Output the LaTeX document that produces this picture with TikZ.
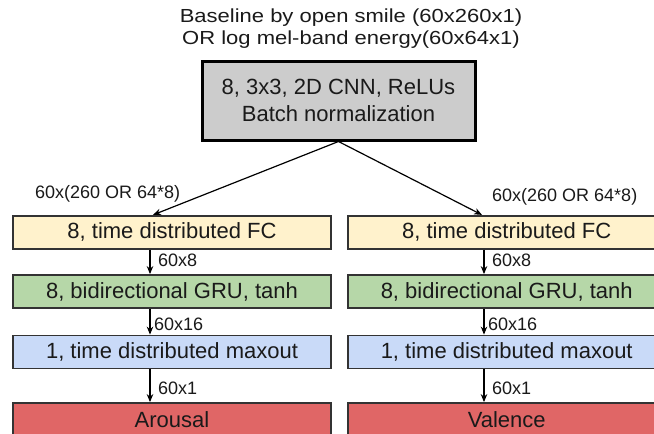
\documentclass[tikz,border=0pt]{standalone}
\usepackage{fontspec}
\setmainfont{Liberation Sans}
\usetikzlibrary{arrows.meta}
\definecolor{fcfill}{HTML}{FFF2CC}
\definecolor{grufill}{HTML}{B6D7A8}
\definecolor{maxfill}{HTML}{C9DAF8}
\definecolor{outfill}{HTML}{E06666}
\definecolor{cnnfill}{HTML}{CCCCCC}
\definecolor{edge}{HTML}{333333}
\definecolor{txt}{HTML}{1A1A1A}
\tikzset{
  layer/.style={draw=edge, line width=1.8pt, rectangle, minimum width=318pt, minimum height=33pt, inner sep=0pt, text=txt, font=\fontsize{22}{26}\selectfont},
  cnnbox/.style={draw=black, line width=3pt, fill=cnnfill, rectangle, minimum width=273pt, minimum height=79pt, inner sep=0pt, align=center, text=txt, font=\fontsize{22}{26.5}\selectfont},
  dimlabel/.style={inner sep=0pt, text=txt, font=\fontsize{18}{20}\selectfont},
  arr/.style={draw=black, line width=1.2pt, -{Stealth[length=8pt,width=6.5pt]}},
}
\begin{document}
\begin{tikzpicture}[x=1pt,y=-1pt]
\clip (0,0) rectangle (654,434);
\fill[white] (0,0) rectangle (654,434);
% input description
\node[inner sep=0pt, text=txt] (inp) at (351,29.3) {\scalebox{1}[0.86]{\fontsize{22}{24.5}\selectfont\begin{tabular}{@{}c@{}}Baseline by open smile (60x260x1)\\OR log mel-band energy(60x64x1)\end{tabular}}};
% CNN
\node[cnnbox] (cnn) at (338.5,100.5) {8, 3x3, 2D CNN, ReLUs\\Batch normalization};
% left column
\node[layer, fill=fcfill] (lfc) at (172,232.3) {8, time distributed FC};
\node[layer, fill=grufill] (lgru) at (172,291.5) {8, bidirectional GRU, tanh};
\node[layer, fill=maxfill] (lmax) at (172,352) {1, time distributed maxout};
\node[layer, fill=outfill] (lout) at (172,419.5) {Arousal};
% right column
\node[layer, fill=fcfill] (rfc) at (506.7,232.3) {8, time distributed FC};
\node[layer, fill=grufill] (rgru) at (506.7,291.5) {8, bidirectional GRU, tanh};
\node[layer, fill=maxfill] (rmax) at (506.7,352) {1, time distributed maxout};
\node[layer, fill=outfill] (rout) at (506.7,419.5) {Valence};
% arrow columns
\coordinate (la) at (150,0);
\coordinate (ra) at (484,0);
\coordinate (lt) at (153,0);
\coordinate (rt) at (482,0);
\coordinate (src) at (340,140);
% connectors
\draw[arr] (cnn.south) -- (lfc.north -| lt);
\draw[arr] (cnn.south) -- (rfc.north -| rt);
\draw[arr] (lfc.south -| la) -- (lgru.north -| la);
\draw[arr] (lgru.south -| la) -- (lmax.north -| la);
\draw[arr] (lmax.south -| la) -- (lout.north -| la);
\draw[arr] (rfc.south -| ra) -- (rgru.north -| ra);
\draw[arr] (rgru.south -| ra) -- (rmax.north -| ra);
\draw[arr] (rmax.south -| ra) -- (rout.north -| ra);
% labels
\node[dimlabel, anchor=west] (l0) at (35,194) {60x(260 OR 64*8)};
\node[dimlabel, anchor=west] (r0) at (492,197) {60x(260 OR 64*8)};
\node[dimlabel, anchor=west] (l1) at (158,260) {60x8};
\node[dimlabel, anchor=west] (r1) at (492,260) {60x8};
\node[dimlabel, anchor=west] (l2) at (154,324) {60x16};
\node[dimlabel, anchor=west] (r2) at (488,324) {60x16};
\node[dimlabel, anchor=west] (l3) at (158,388) {60x1};
\node[dimlabel, anchor=west] (r3) at (492,388) {60x1};
\end{tikzpicture}
\end{document}
